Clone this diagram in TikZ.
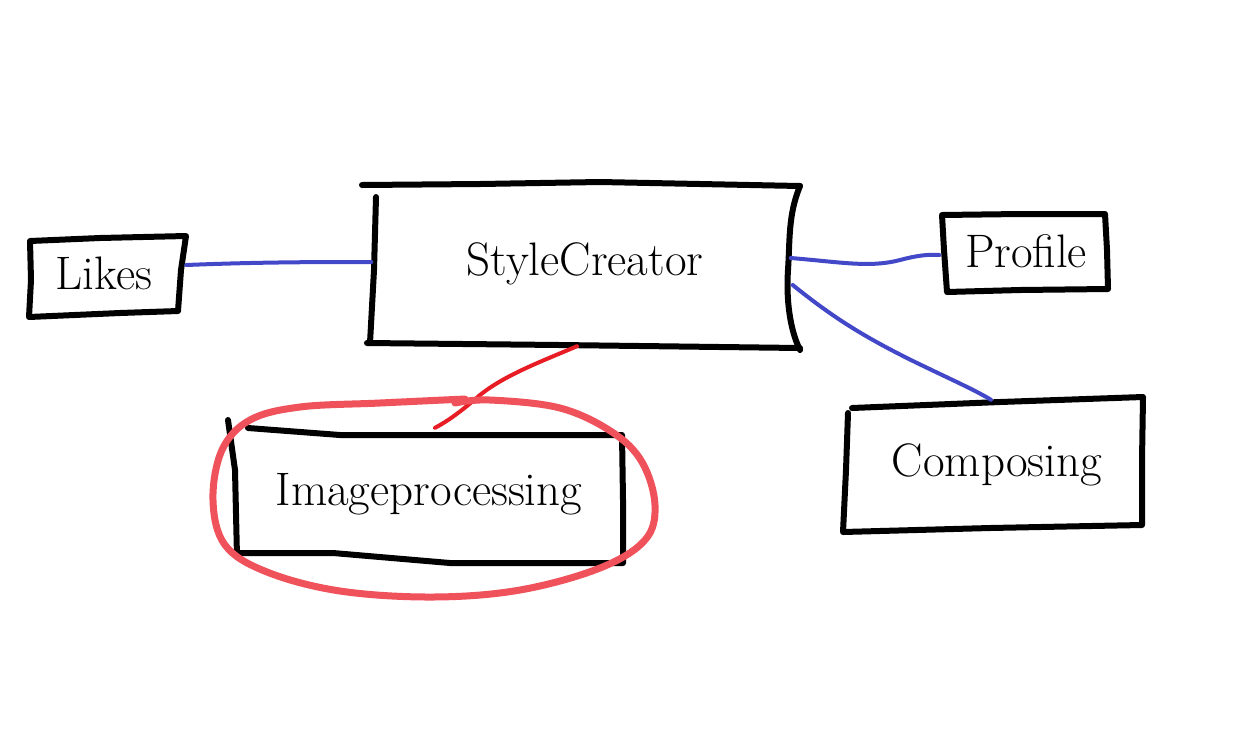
\documentclass[tikz,border=0pt]{standalone}
\definecolor{linkblue}{RGB}{66,72,200}
\definecolor{ellred}{RGB}{240,82,92}
\definecolor{linered}{RGB}{232,28,36}
\begin{document}
\begin{tikzpicture}[x=1pt,y=-1pt,
  box/.style={line width=6pt,line join=round,line cap=round},
  lbl/.style={font=\fontsize{47}{54}\selectfont, inner sep=0pt},
  blueline/.style={draw=linkblue,line width=4pt,line cap=round},
  redline/.style={draw=linered,line width=4pt,line cap=round}]
\useasboundingbox (0,0) rectangle (1233,740);
\fill[white] (0,0) rectangle (1233,740);

% nodes (invisible frames carrying the labels)
\node[lbl, minimum width=423pt, minimum height=162pt] (sc) at (585,264) {StyleCreator};
\node[lbl, minimum width=152pt, minimum height=76pt] (likes) at (104,273) {Likes};
\node[lbl, minimum width=163pt, minimum height=75pt] (pr) at (1026,251) {Profile};
\node[lbl, minimum width=296pt, minimum height=130pt] (co) at (997,465) {Composing};
\node[lbl, minimum width=387pt, minimum height=128pt] (ip) at (429,494) {Imageprocessing};

% hand-drawn boxes
% StyleCreator
\draw[box] (362,185) -- (480,184) -- (600,182) -- (800,186);
\draw[box] (800,186) .. controls (788,215) and (790,240) .. (788,270) .. controls (786,300) and (790,330) .. (800,350);
\draw[box] (367,343) -- (560,345) -- (800,348);
\draw[box] (376,197) -- (374,270) -- (370,343);
% Likes
\draw[box] (30,241) -- (100,238) -- (186,236) -- (181,270) -- (178,311) -- (120,313) -- (29,317) -- (31,280) -- cycle;
% Profile
\draw[box] (942,215) -- (1020,214) -- (1105,214) -- (1107,250) -- (1108,289) -- (1020,290) -- (947,292) -- (944,250) -- cycle;
% Composing
\draw[box] (852,408) -- (1000,402) -- (1143,397) -- (1142,460) -- (1142,525) -- (990,528) -- (843,532) -- (846,470) -- (848,413);
% Imageprocessing
\draw[box] (248,428) -- (340,435) -- (622,435) -- (623,500) -- (623,563) -- (450,563) -- (333,553) -- (237,553);
\draw[box] (228,420) -- (235,470) -- (237,557);

% connectors
\draw[blueline] ([yshift=8pt,xshift=6pt]likes.east) .. controls (260,262) and (320,262) .. ([yshift=2pt,xshift=-2pt]sc.west);
\draw[blueline] ([yshift=6pt,xshift=-6pt]sc.east) .. controls (840,262) and (870,268) .. (900,260) .. controls (915,256) and (928,254) .. ([xshift=-5pt,yshift=-4pt]pr.west);
\draw[blueline] ([yshift=-21pt,xshift=-4pt]sc.east) .. controls (830,315) and (860,335) .. (915,362) .. controls (950,379) and (975,390) .. ([xshift=-6pt]co.north);
\draw[redline] ([xshift=-8pt,yshift=-1pt]sc.south) .. controls (540,362) and (505,375) .. (480,395) .. controls (465,408) and (450,420) .. ([xshift=6pt,yshift=2pt]ip.north);

% red highlight loop
\draw[ellred,line width=7pt,line cap=round,line join=round]
  plot[smooth,tension=0.6] coordinates {(465,399) (380,403) (300,407) (250,420) (222,450) (213,500) (225,545) (267,572) (340,591) (433,597) (520,590) (600,568) (645,540) (655,505) (642,462) (612,432) (560,408) (490,400) (455,403)};
\end{tikzpicture}
\end{document}
